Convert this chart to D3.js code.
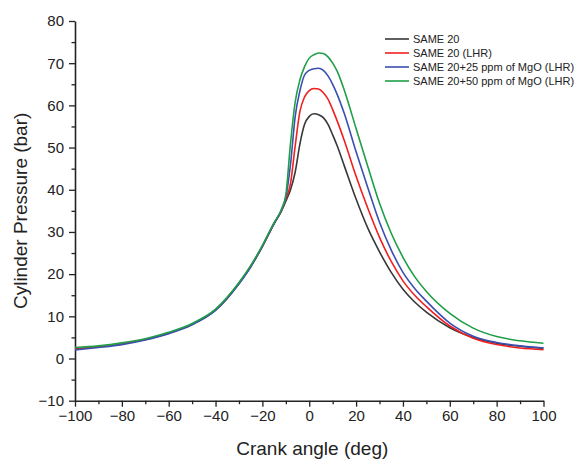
<!DOCTYPE html>
<html>
<head>
<meta charset="utf-8">
<script src="https://cdn.jsdelivr.net/npm/d3@7"></script>
<style>
  body { margin: 0; background: #fff; }
  svg { font-family: Arial, "Liberation Sans", sans-serif; }
</style>
</head>
<body>
<div id="chart"></div>
<script>
// crank angle grid (deg)
const angles = [-100, -90, -80, -70, -60, -50, -40, -30, -25, -20, -15, -12, -10, -8, -6, -4, -2, 0, 2, 4, 6, 8, 10, 12, 15, 20, 25, 30, 35, 40, 45, 50, 60, 70, 80, 90, 100];

// cylinder pressure (bar)
const same20 = [2.3, 2.8, 3.5, 4.5, 6.0, 8.1, 11.5, 17.8, 21.8, 26.6, 32, 34.8, 37.3, 40, 44.2, 50.8, 55.5, 57.4, 58, 57.8, 57.1, 55.5, 53, 50.3, 45.6, 37.8, 30.9, 25.3, 20.4, 16.4, 13.4, 11, 7.3, 5, 3.6, 2.9, 2.4];
const same20Lhr = [2.2, 2.8, 3.5, 4.5, 6.0, 8.1, 11.5, 17.8, 21.8, 26.6, 32, 34.9, 37.8, 41.5, 50.4, 58.5, 62, 63.5, 64, 63.9, 63, 61.5, 59, 56.2, 51.6, 43.2, 35.6, 28.7, 23, 18.4, 15, 12.3, 7.7, 4.8, 3.3, 2.5, 2.1];
const mgo25 = [2.0, 2.6, 3.3, 4.4, 5.9, 8.0, 11.4, 17.7, 21.7, 26.6, 32, 35, 38.2, 46, 57.4, 63.4, 67.2, 68.3, 68.7, 68.8, 68.3, 67, 65, 62.5, 58, 49, 40.5, 32.3, 25.7, 20.4, 16.6, 13.6, 8.4, 5.3, 3.8, 3.0, 2.5];
const mgo50 = [2.6, 3.0, 3.7, 4.7, 6.2, 8.3, 11.7, 18.0, 22, 26.8, 32.2, 35.2, 38.8, 51, 60.8, 66, 69.2, 71.2, 72, 72.4, 72.3, 71.5, 70, 68, 63.5, 54.5, 45.5, 36.8, 29.7, 24, 19.4, 15.9, 10.7, 7.2, 5.2, 4.2, 3.6];

const seriesNames = ['SAME 20', 'SAME 20 (LHR)', 'SAME 20+25 ppm of MgO (LHR)', 'SAME 20+50 ppm of MgO (LHR)'];
const seriesColors = ['#383838', '#f02020', '#3a4fb0', '#1f9e48'];
const seriesValues = [same20, same20Lhr, mgo25, mgo50];

const xTicks = [-100, -80, -60, -40, -20, 0, 20, 40, 60, 80, 100];
const yTicks = [-10, 0, 10, 20, 30, 40, 50, 60, 70, 80];

(function () {
  'use strict';
  const width = 577;
  const height = 459;
  const plotLeft = 75, plotRight = 543.5, plotTop = 21, plotBottom = 400.7;

  const svg = d3.select('#chart')
    .append('svg')
    .attr('width', width)
    .attr('height', height);

  const x = d3.scaleLinear().domain([-100, 100]).range([plotLeft, plotRight]);
  const y = d3.scaleLinear().domain([-10, 80]).range([plotBottom, plotTop]);

  // minor ticks first, so major ones sit on top
  const xMinor = d3.range(-90, 100, 20);
  const yMinor = d3.range(-5, 80, 10);

  svg.append('g')
    .attr('transform', 'translate(0,' + plotBottom + ')')
    .call(d3.axisBottom(x).tickValues(xMinor).tickSize(3.5).tickFormat(''))
    .call(g => g.select('.domain').remove())
    .call(g => g.selectAll('line').attr('stroke', '#222').attr('stroke-width', 1.3));

  svg.append('g')
    .attr('transform', 'translate(' + plotLeft + ',0)')
    .call(d3.axisLeft(y).tickValues(yMinor).tickSize(3.5).tickFormat(''))
    .call(g => g.select('.domain').remove())
    .call(g => g.selectAll('line').attr('stroke', '#222').attr('stroke-width', 1.3));

  const xAxis = svg.append('g')
    .attr('transform', 'translate(0,' + plotBottom + ')')
    .call(d3.axisBottom(x).tickValues(xTicks).tickSize(6).tickSizeOuter(0).tickPadding(4));

  const yAxis = svg.append('g')
    .attr('transform', 'translate(' + plotLeft + ',0)')
    .call(d3.axisLeft(y).tickValues(yTicks).tickSize(6).tickSizeOuter(0).tickPadding(5));

  [xAxis, yAxis].forEach(g => {
    g.select('.domain').attr('stroke', '#222').attr('stroke-width', 1.6);
    g.selectAll('.tick line').attr('stroke', '#222').attr('stroke-width', 1.3);
    g.selectAll('.tick text')
      .attr('fill', '#222')
      .style('font-size', '15px')
      .style('font-family', 'Arial, "Liberation Sans", sans-serif');
  });

  // axis titles
  svg.append('text')
    .attr('x', (plotLeft + plotRight) / 2 + 3)
    .attr('y', 455)
    .attr('text-anchor', 'middle')
    .attr('fill', '#222')
    .style('font-size', '19px')
    .text('Crank angle (deg)');

  svg.append('text')
    .attr('transform', 'translate(27,' + ((plotTop + plotBottom) / 2) + ') rotate(-90)')
    .attr('text-anchor', 'middle')
    .attr('fill', '#222')
    .style('font-size', '19px')
    .text('Cylinder Pressure (bar)');

  // curves
  const line = d3.line()
    .x(d => x(d[0]))
    .y(d => y(d[1]))
    .curve(d3.curveMonotoneX);

  seriesValues.forEach((vals, i) => {
    svg.append('path')
      .datum(angles.map((a, j) => [a, vals[j]]))
      .attr('fill', 'none')
      .attr('stroke', seriesColors[i])
      .attr('stroke-width', 1.6)
      .attr('d', line);
  });

  // legend
  const legend = svg.append('g').attr('transform', 'translate(385,39)');
  seriesNames.forEach((name, i) => {
    legend.append('line')
      .attr('x1', 0).attr('x2', 24)
      .attr('y1', i * 14).attr('y2', i * 14)
      .attr('stroke', seriesColors[i])
      .attr('stroke-width', 1.6);
    legend.append('text')
      .attr('x', 28)
      .attr('y', i * 14 + 4)
      .attr('fill', '#222')
      .style('font-size', '11px')
      .text(name);
  });
}());
</script>
</body>
</html>
